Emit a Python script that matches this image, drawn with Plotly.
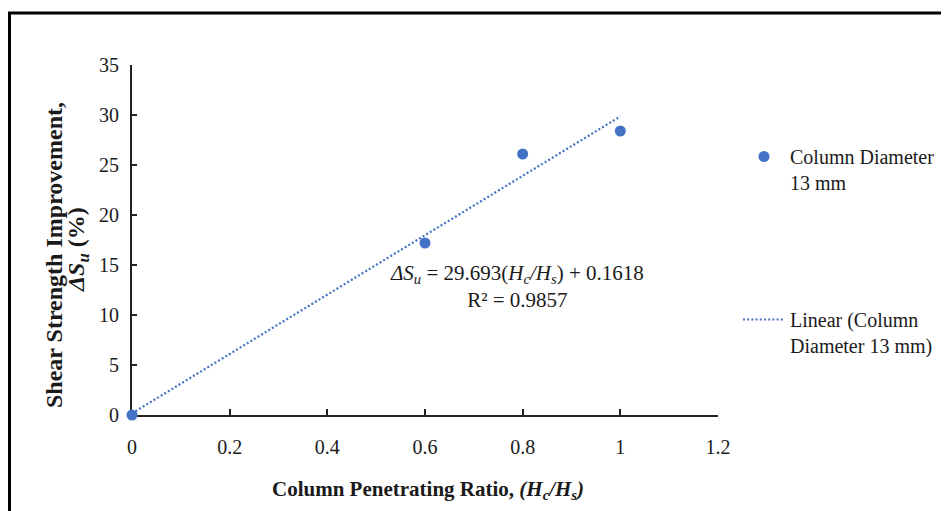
import plotly.graph_objects as go

# Data
ratio = [0.0, 0.6, 0.8, 1.0]
improvement = [0.0, 17.2, 26.1, 28.4]
fit_slope = 29.693
fit_intercept = 0.1618
fit_r2 = 0.9857
fit_x = [0.0, 1.0]
x_ticks = [0, 0.2, 0.4, 0.6, 0.8, 1, 1.2]
y_ticks = [0, 5, 10, 15, 20, 25, 30, 35]

BLUE = "#4472C4"
FONT = "Liberation Serif"
TXT = "#1a1a1a"

fit_y = [fit_slope * x + fit_intercept for x in fit_x]

fig = go.Figure()
fig.add_trace(go.Scatter(
    x=ratio, y=improvement, mode="markers",
    marker=dict(color=BLUE, size=11),
    name="Column Diameter<br>13 mm", legendgroup="a", legendrank=1,
    cliponaxis=False,
))
fig.add_trace(go.Scatter(
    x=fit_x, y=fit_y, mode="lines",
    line=dict(color=BLUE, width=2.2, dash="2px,2.2px"),
    name="Linear (Column<br>Diameter 13 mm)", legendgroup="b", legendrank=2,
    cliponaxis=False,
))

# page has an 8px body offset
OFF = 8
PL, PR, PT, PB = 132, 718, 65, 415  # plot area in reference pixels
W, H = 949, 511
pw, ph = PR - PL, PB - PT
L = PL - OFF
T = PT - OFF
R = W - L - pw
B = H - T - ph

def px_x(p):
    return (p - PL) / pw

def px_y(p):
    return (PB - p) / ph

fig.update_layout(
    width=W, height=H,
    margin=dict(l=L, r=R, t=T, b=B, autoexpand=False),
    paper_bgcolor="white", plot_bgcolor="white",
    font=dict(family=FONT, size=20, color=TXT),
    showlegend=True,
    legend=dict(
        x=px_x(738), y=px_y(137), xanchor="left", yanchor="top",
        font=dict(family=FONT, size=20, color=TXT),
        tracegroupgap=108, valign="top", bgcolor="rgba(0,0,0,0)",
        traceorder="grouped", itemwidth=42,
    ),
    xaxis=dict(
        range=[0, 1.2], tickvals=x_ticks, ticktext=[f"{v:g}" for v in x_ticks],
        showgrid=False, zeroline=False, showline=True, linecolor="#222", linewidth=2,
        ticks="inside", ticklen=6, tickcolor="#222", tickwidth=1.5,
        tickfont=dict(family=FONT, size=20, color=TXT), layer="below traces",
        ticklabelstandoff=13,
    ),
    yaxis=dict(
        range=[0, 35], tickvals=y_ticks,
        showgrid=False, zeroline=False, showline=True, linecolor="#222", linewidth=2,
        ticks="inside", ticklen=5, tickcolor="#222", tickwidth=1.5,
        tickfont=dict(family=FONT, size=20, color=TXT), layer="below traces",
        ticklabelstandoff=7,
    ),
    shapes=[dict(
        type="rect", xref="paper", yref="paper",
        x0=px_x(9.5), y0=px_y(13), x1=px_x(1100), y1=px_y(700),
        line=dict(color="black", width=3), fillcolor="rgba(0,0,0,0)", layer="below",
    )],
    annotations=[
        dict(
            text="<b>Column Penetrating Ratio, <i>(H<sub>c</sub>/H<sub>s</sub>)</i></b>",
            xref="paper", yref="paper", x=px_x(428), y=px_y(490),
            showarrow=False, font=dict(family=FONT, size=21, color=TXT),
            xanchor="center", yanchor="middle",
        ),
        dict(
            text="<b>Shear Strength Improvement,</b>",
            xref="paper", yref="paper", x=px_x(54), y=px_y(255),
            showarrow=False, textangle=-90, font=dict(family=FONT, size=24, color=TXT),
            xanchor="center", yanchor="middle",
        ),
        dict(
            text="<b><i>ΔS<sub>u</sub></i> (%)</b>",
            xref="paper", yref="paper", x=px_x(78), y=px_y(250),
            showarrow=False, textangle=-90, font=dict(family=FONT, size=24, color=TXT),
            xanchor="center", yanchor="middle",
        ),
        dict(
            text=(f"<i>ΔS<sub>u</sub></i> = {fit_slope:.3f}(<i>H<sub>c</sub>/H<sub>s</sub></i>) + {fit_intercept}"
                  f"<br>R² = {fit_r2}"),
            xref="paper", yref="paper", x=px_x(517), y=px_y(286),
            showarrow=False, font=dict(family=FONT, size=21, color=TXT),
            xanchor="center", yanchor="middle", align="center",
        ),
    ],
)

fig.write_html("out.html")
